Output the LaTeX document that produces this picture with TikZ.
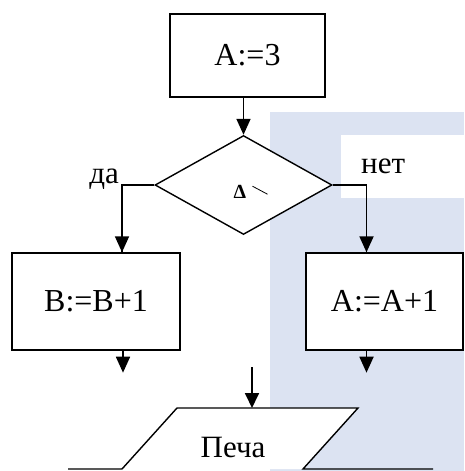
\documentclass[tikz,border=0pt]{standalone}
\usepackage{fontspec}
\setmainfont{Liberation Serif}
\usetikzlibrary{arrows.meta,shapes.geometric}
\definecolor{wmblue}{HTML}{DCE3F2}
\begin{document}
\begin{tikzpicture}[x=1pt,y=-1pt,
  procbox/.style={draw, line width=1.4pt, inner sep=0pt, fill=white,
    font=\fontsize{32}{32}\selectfont},
  flow/.style={line width=1.8pt, -{Triangle[width=14pt,length=16pt]}},
  plain/.style={line width=1.6pt},
  lbl/.style={inner sep=0pt, font=\fontsize{31}{31}\selectfont}]
\useasboundingbox (0,0) rectangle (464,471);
% watermark background
\fill[wmblue] (270,112) rectangle (464,471);
\fill[white] (341,135) rectangle (464,198);
% blocks
\node[procbox, minimum width=155pt, minimum height=83pt] (a) at (247.5,55.5) {A:=3};
\node[draw, diamond, line width=1.4pt, inner sep=0pt, fill=white,
      minimum width=177pt, minimum height=99pt] (d) at (243.5,185) {};
\node[inner sep=0pt, font=\bfseries\fontsize{20}{20}\selectfont] (dt) at (240,192) {Δ};
\draw[line width=0.8pt] ([xshift=6pt,yshift=-1pt]dt.north east) -- ++(15,8);
\node[procbox, minimum width=168pt, minimum height=97pt] (b) at (96,301.5) {B:=B+1};
\node[procbox, minimum width=157pt, minimum height=97pt] (c) at (384.5,301.5) {A:=A+1};
\node[lbl, anchor=base east] (yes) at (119,183) {да};
\node[lbl, anchor=base west] (no) at (361,173) {нет};
% output parallelogram (cut by the bottom edge)
\fill[white] (177,408) -- (358,408) -- (303,469) -- (122,469) -- cycle;
\draw[line width=1.4pt] (68,469) -- (122,469) -- (177,408) -- (358,408) -- (303,469) -- (433,469);
\coordinate (ptop) at (252,408);
\coordinate (pin) at (252,367);
\node[inner sep=0pt, font=\fontsize{31}{31}\selectfont] (pe) at (233,447) {Печа};
% connectors
\draw[flow] (a.south -| d.north) -- (d.north);
\draw[plain] (d.west) -| ([xshift=26pt]b.north);
\draw[flow] ([xshift=26pt,yshift=20pt]b.north) -- ([xshift=26pt]b.north);
\draw[plain] (d.east) -| ([xshift=-18pt]c.north);
\draw[flow] ([xshift=-18pt,yshift=20pt]c.north) -- ([xshift=-18pt]c.north);
\draw[flow] ([xshift=27pt]b.south) -- ++(0,22);
\draw[flow] ([xshift=-18pt]c.south) -- ++(0,22);
\draw[flow, -{Triangle[width=14pt,length=15pt]}] (pin) -- (ptop);
\end{tikzpicture}
\end{document}
